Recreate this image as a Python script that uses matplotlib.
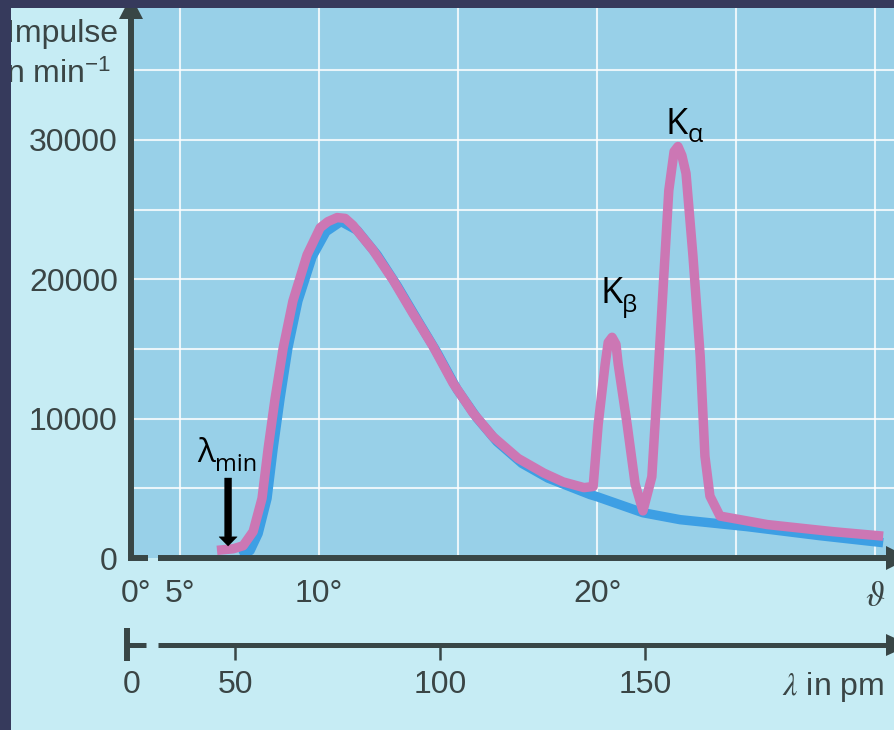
import numpy as np
import matplotlib
matplotlib.use('Agg')
import matplotlib.pyplot as plt
from matplotlib.patches import Polygon, Rectangle
from matplotlib.lines import Line2D
from matplotlib.transforms import IdentityTransform

# ---------------- data ----------------
theta_ticks = [5, 10, 20]
theta_ticklabels = ['5°', '10°', '20°']
lambda_ticks = [50, 100, 150]
count_ticks = [0, 10000, 20000, 30000]
count_ticklabels = ['0', '10000', '20000', '30000']
grid_theta = [5, 10, 15, 20, 25, 30]
grid_counts = [5000, 10000, 15000, 20000, 25000, 30000, 35000]

# measured spectrum (with characteristic lines), theta in degrees
theta_total = [6.33, 6.91, 7.27, 7.63, 7.95, 8.17, 8.42, 8.71, 9.06, 9.57,
               10.04, 10.32, 10.65, 10.94, 11.22, 11.94, 12.66, 13.38, 14.10, 14.82,
               15.54, 16.26, 17.16, 18.09, 18.78, 19.53, 19.86, 20.04, 20.29, 20.40,
               20.54, 20.68, 20.76, 21.08, 21.37, 21.65, 21.97, 22.16, 22.37, 22.58,
               22.77, 22.91, 23.05, 23.20, 23.45, 23.71, 23.88, 24.06, 24.42, 26.12,
               28.49, 30.29]
counts_total = [550, 660, 880, 1900, 4280, 7870, 11460, 15060, 18440, 21750,
                23700, 24140, 24430, 24370, 23870, 22100, 19960, 17540, 15190, 12550,
                10410, 8700, 7150, 6090, 5460, 5050, 5130, 9580, 13900, 15470,
                15840, 15340, 13910, 9610, 5310, 3380, 5830, 12000, 19180, 26370,
                29170, 29530, 28890, 27600, 21650, 14480, 7300, 4440, 3010, 2400,
                1890, 1570]

# continuous (bremsstrahlung) background
theta_brems = [7.16, 7.52, 7.81, 8.13, 8.35, 8.60, 8.88, 9.24, 9.75, 10.25,
               10.79, 11.37, 12.09, 12.81, 13.53, 14.24, 14.96, 15.68, 16.40, 17.30,
               18.24, 19.75, 20.00, 21.65, 22.99, 25.40, 28.02, 30.29]
counts_brems = [200, 530, 1760, 4280, 7870, 11470, 15070, 18450, 21610, 23420,
                24150, 23520, 21750, 19540, 17120, 14760, 12120, 10050, 8350, 6790,
                5730, 4550, 4400, 3250, 2750, 2250, 1600, 1100]

# wavelength scale (lambda in pm vs theta in degrees)
lambda_per_degree = 6.78
lambda_offset = 2.68

# ---------------- style ----------------
outer_bg = '#c6ecf4'
plot_bg = '#98d0e8'
axis_color = '#384646'
text_color = '#3a4545'
pink = '#cc77b4'
blue = '#3d9fe4'
navy = '#363a5c'

plt.rcParams['font.family'] = ['Liberation Sans', 'DejaVu Sans']
plt.rcParams['mathtext.fontset'] = 'stix'

W, H = 894, 730
fig = plt.figure(figsize=(W / 100, H / 100), dpi=100, facecolor=outer_bg)
ax = fig.add_axes([131 / W, 172 / H, 763 / W, 550 / H])
ax.set_facecolor(plot_bg)
ax.set_xlim(3.237, 30.68)
ax.set_ylim(0, 39470)
for s in ax.spines.values():
    s.set_visible(False)

for g in grid_counts:
    ax.axhline(g, color='white', lw=1.5, alpha=0.8, zorder=1)
for g in grid_theta:
    ax.axvline(g, color='white', lw=1.5, alpha=0.8, zorder=1)

ax.plot(theta_brems, counts_brems, color=blue, lw=6.8, solid_joinstyle='round',
        solid_capstyle='butt', zorder=3)
ax.plot(theta_total, counts_total, color=pink, lw=6.8, solid_joinstyle='round',
        solid_capstyle='butt', zorder=4)

ax.set_xticks(theta_ticks, labels=theta_ticklabels)
ax.tick_params(axis='x', length=0, pad=15, labelsize=23, labelcolor=text_color)
ax.set_yticks(count_ticks, labels=count_ticklabels)
ax.tick_params(axis='y', length=0, pad=9.5, labelsize=23, labelcolor=text_color)

# wavelength axis
sec = ax.secondary_xaxis(-0.158, functions=(
    lambda t: lambda_per_degree * np.asarray(t) + lambda_offset,
    lambda l: (np.asarray(l) - lambda_offset) / lambda_per_degree))
sec.set_xticks(lambda_ticks)
for s in sec.spines.values():
    s.set_visible(False)
sec.tick_params(direction='out', length=10.8, width=1.8, color=axis_color,
                labelsize=23, labelcolor=text_color, pad=7.2)

# axis lines drawn in pixel space
def P(x, y):
    return (x, H - y)

def line(pts, lw):
    xs = [P(*p)[0] for p in pts]
    ys = [P(*p)[1] for p in pts]
    fig.add_artist(Line2D(xs, ys, transform=IdentityTransform(), color=axis_color,
                          lw=lw, solid_joinstyle='miter', solid_capstyle='butt', zorder=6))

def tri(pts):
    fig.add_artist(Polygon([P(*p) for p in pts], closed=True, transform=IdentityTransform(),
                           color=axis_color, lw=0, zorder=6))

line([(131, 17), (131, 558), (148, 558)], 4.3)
line([(158, 558), (888, 558)], 4.3)
tri([(119, 19), (143, 19), (131, -4)])
tri([(886, 546), (886, 570), (910, 558)])
line([(127, 628), (127, 661)], 4.3)
line([(127, 645), (146, 645)], 3.6)
line([(158, 645), (888, 645)], 3.6)
tri([(886, 634), (886, 656), (910, 645)])

# axis texts
ax.annotate('0°', xy=(0, 0), xycoords='axes fraction', xytext=(3.6, -15.1),
            textcoords='offset points', ha='center', va='top', fontsize=23, color=text_color)
ax.annotate('0', xy=(0, 0), xycoords='axes fraction', xytext=(0.7, -80.6),
            textcoords='offset points', ha='center', va='top', fontsize=23, color=text_color)
ax.annotate(r'$\vartheta$', xy=(1, 0), xycoords='axes fraction', xytext=(-13.7, -28),
            textcoords='offset points', ha='center', va='center', fontsize=25, color=text_color)
ax.annotate(r'$\lambda$ in pm', xy=(1, 0), xycoords='axes fraction', xytext=(-7.2, -98.6),
            textcoords='offset points', ha='right', va='baseline', fontsize=23, color=text_color)
fig.text(118 / W, 1 - 42 / H, 'Impulse', ha='right', va='baseline', fontsize=23, color=text_color)
fig.text(111 / W, 1 - 83 / H, r'in min$^{\mathregular{-1}}$', ha='right', va='baseline',
         fontsize=23, color=text_color)

# peak labels
lab = dict(family=['Open Sans', 'DejaVu Sans'], color='black', ha='left', va='baseline')
ax.text(22.45, 30400, 'K', fontsize=26, zorder=7, **lab)
ax.annotate('α', xy=(22.45, 30400), xytext=(15.8, -5.8), textcoords='offset points',
            fontsize=18, zorder=7, **lab)
ax.text(20.12, 18300, 'K', fontsize=26, zorder=7, **lab)
ax.annotate('β', xy=(20.12, 18300), xytext=(15.8, -6.5), textcoords='offset points',
            fontsize=17.5, zorder=7, **lab)
ax.text(5.61, 6890, 'λ', fontsize=24, zorder=7, **lab)
ax.annotate('min', xy=(5.61, 6890), xytext=(13, -6.5), textcoords='offset points',
            fontsize=17, zorder=7, **lab)
ax.annotate('', xy=(6.73, 860), xytext=(6.73, 5740),
            arrowprops=dict(arrowstyle='simple,head_length=0.33,head_width=0.65,tail_width=0.25',
                            mutation_scale=20, fc='black', ec='black', lw=0.3,
                            shrinkA=0, shrinkB=0), zorder=7)

# scan border
fig.add_artist(Rectangle((0, 0), 11, H, transform=IdentityTransform(), color=navy, lw=0, zorder=20))
fig.add_artist(Rectangle((0, H - 8), W, 8, transform=IdentityTransform(), color=navy, lw=0, zorder=20))

fig.savefig('out.png', dpi=100, facecolor=outer_bg)
